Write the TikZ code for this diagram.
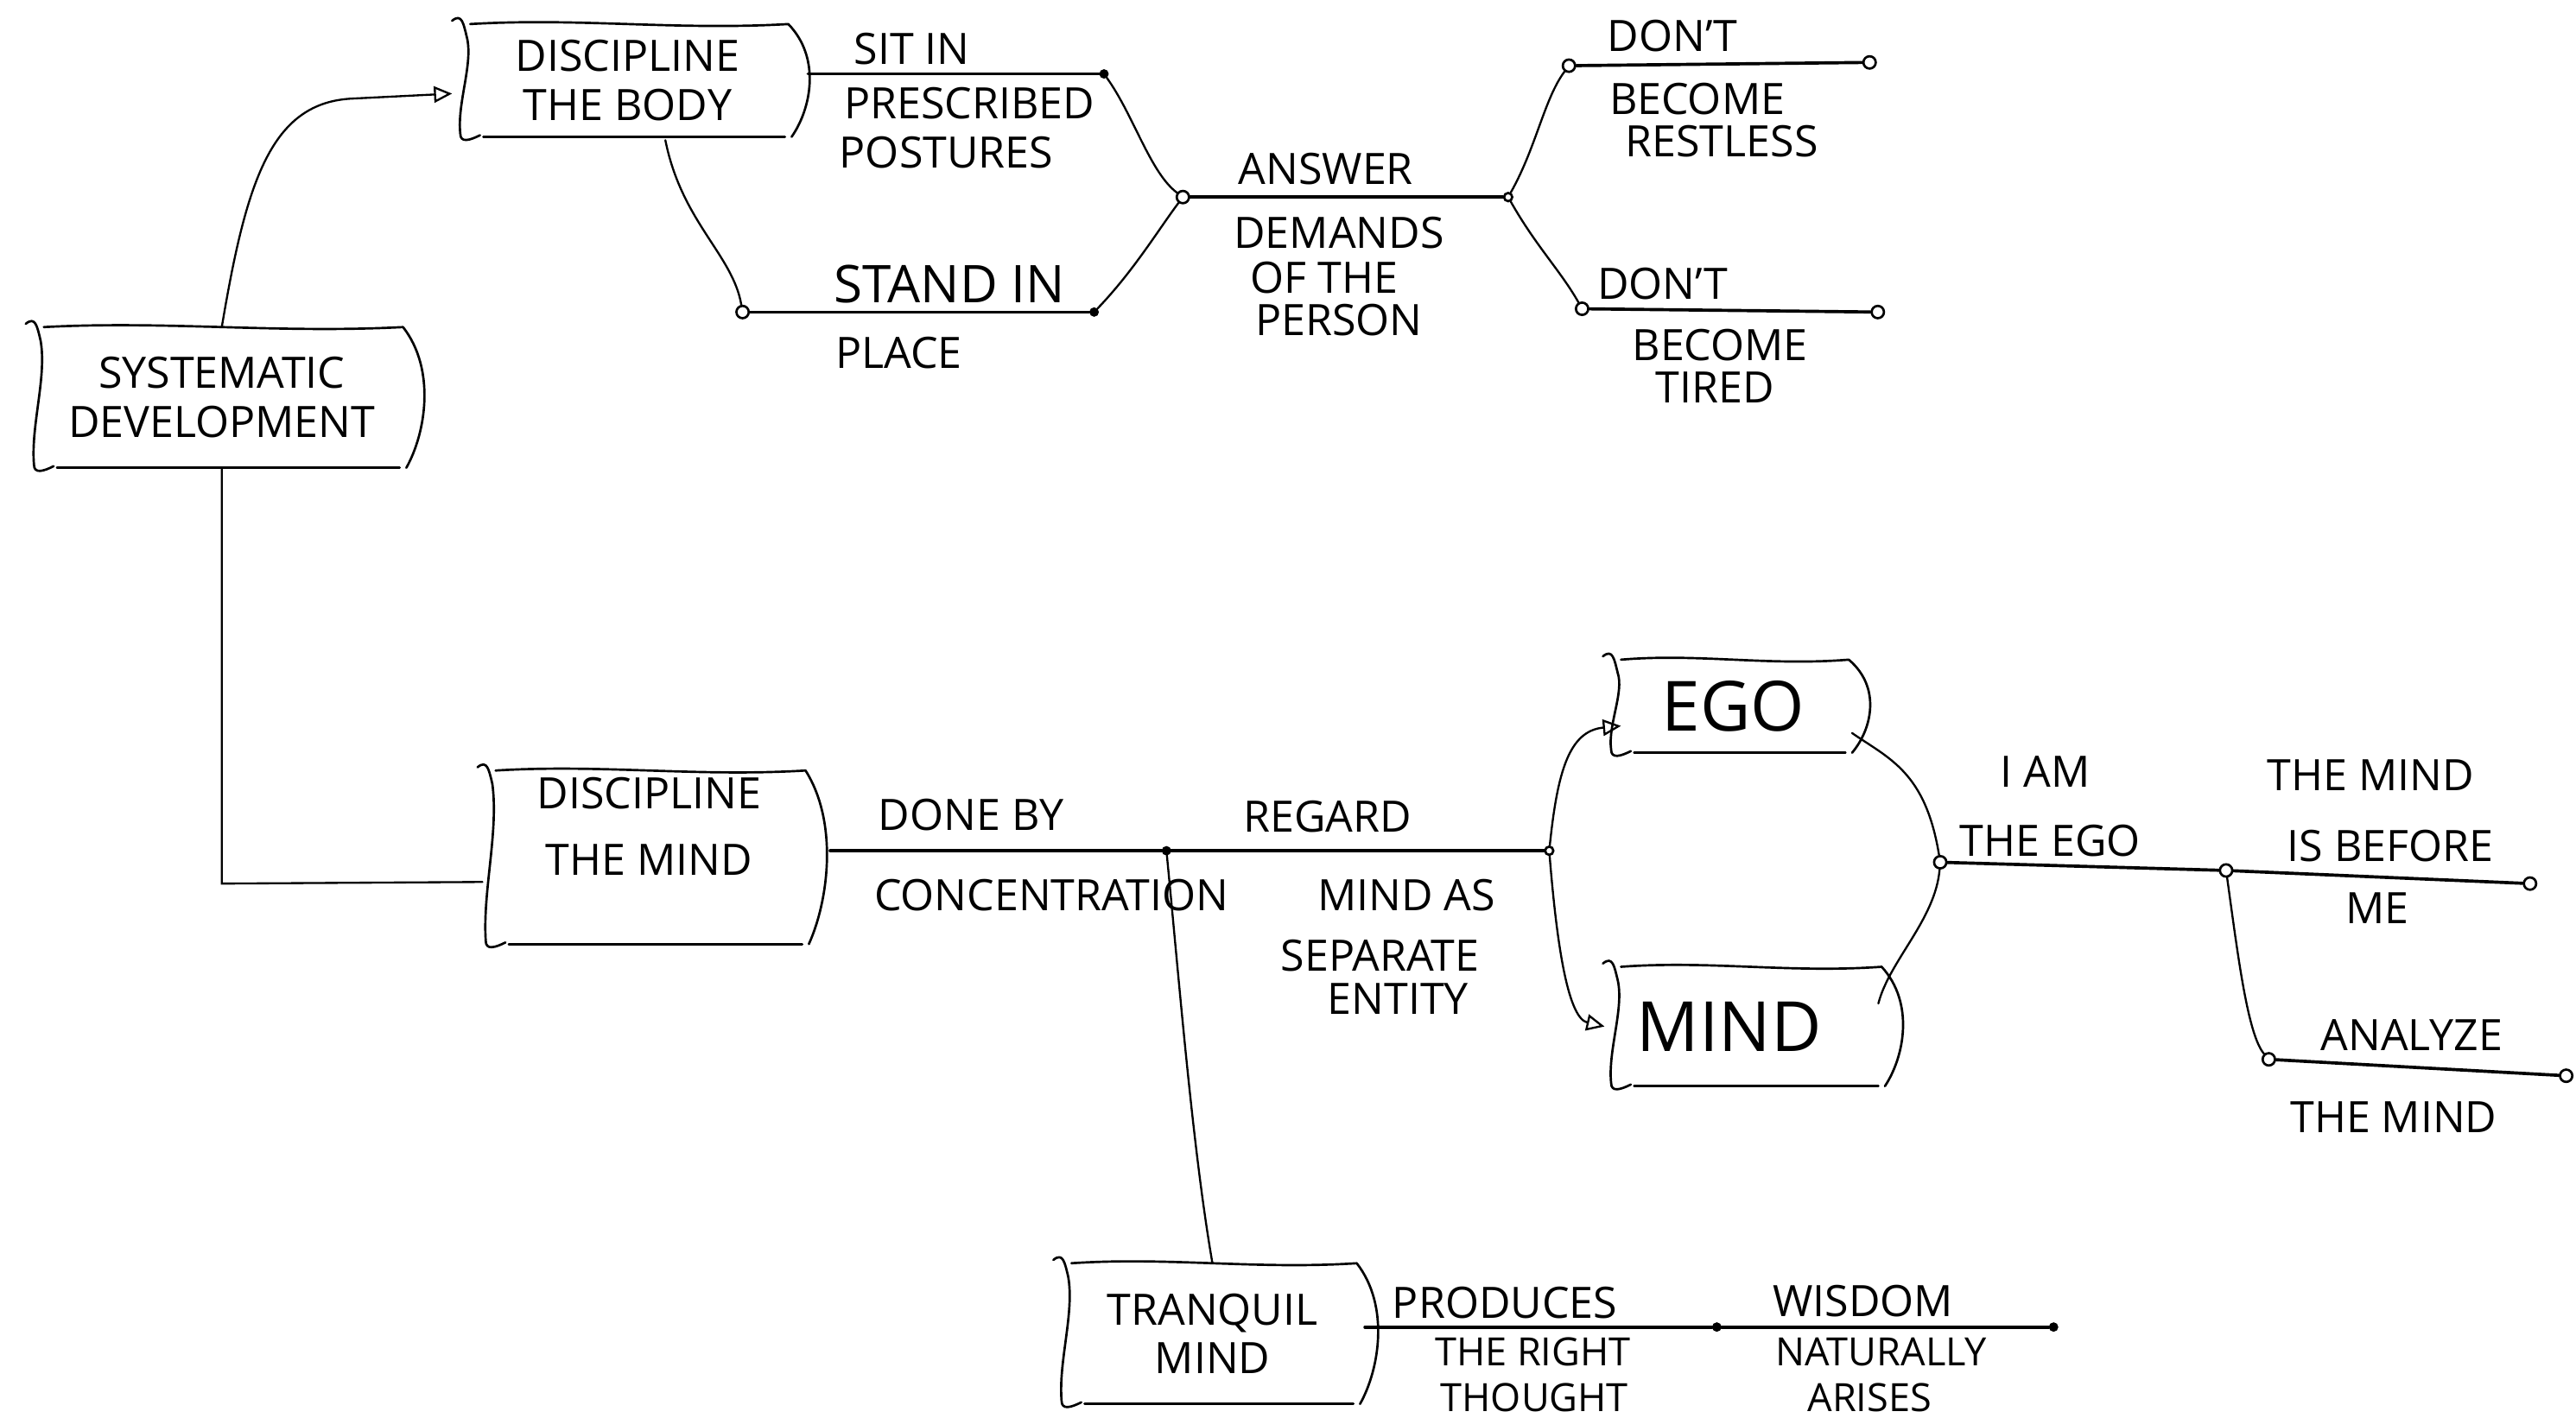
\documentclass[tikz,border=0pt]{standalone}
\usepackage{fontspec}
\setmainfont{Open Sans}
\usetikzlibrary{arrows.meta,calc}
\tikzset{
  txt/.style={font=\fontsize{15}{17}\selectfont, inner sep=0pt},
  smalltxt/.style={font=\fontsize{13.5}{15}\selectfont, inner sep=0pt},
  bigtxt/.style={font=\fontsize{18}{20}\selectfont, inner sep=0pt},
  boxtxt/.style={font=\fontsize{15}{17}\selectfont, inner sep=0pt, align=center},
  frame/.style={line width=0.8pt, line cap=round, line join=round},
  conn/.style={line width=0.7pt, line cap=round},
  rail/.style={line width=1.1pt, line cap=round},
  opendot/.style={circle, draw, line width=0.8pt, inner sep=0pt, minimum size=0.15cm},
  fulldot/.style={circle, draw, fill, inner sep=0pt, minimum size=0.1cm},
  arr/.style={-{Triangle[open, length=0.22cm, width=0.2cm]}}
}
\newcommand\scrollframe[1]{%
  \draw[frame] ($(#1.north west)+(-9,-2)$) .. controls +(6,-5) and +(-2,-8) .. ($(#1.north west)+(0,8)$)
     .. controls ($(#1.north west)!0.35!(#1.south west)+(4,0)$) and ($(#1.north west)!0.7!(#1.south west)+(-6,0)$) .. ($(#1.south west)+(-4,-2)$)
     .. controls +(0,6) and +(-6,3) .. ($(#1.south west)+(8,-1)$);
  \draw[frame] ($(#1.north west)+(2,0)$) .. controls ($(#1.north west)!0.35!(#1.north east)+(0,-4)$) and ($(#1.north west)!0.65!(#1.north east)+(0,4)$) .. (#1.north east)
     .. controls ($(#1.north east)!0.3!(#1.south east)+(20,0)$) and ($(#1.north east)!0.75!(#1.south east)+(14,0)$) .. ($(#1.south east)+(2,0)$);
  \draw[frame] ($(#1.south west)+(10,0)$) -- ($(#1.south east)+(-2,0)$);
}
\begin{document}
\begin{tikzpicture}[x=0.02cm, y=-0.02cm]
\fill[white] (0,0) rectangle (1568,862.9);
\useasboundingbox (0,0) rectangle (1568,862.9);

% ---------- boxes ----------
\node[boxtxt, minimum width=4.4cm, minimum height=1.7cm] (SD) at (135,242) {SYSTEMATIC\\DEVELOPMENT};
\node[boxtxt, minimum width=3.9cm, minimum height=1.36cm] (DB) at (382,49) {DISCIPLINE\\THE BODY};
\node[boxtxt, minimum width=3.8cm, minimum height=2.1cm, text depth=0.75cm] (DM) at (395,522) {DISCIPLINE\\[6pt]THE MIND};
\node[boxtxt, font=\fontsize{24}{26}\selectfont, minimum width=2.8cm, minimum height=1.12cm] (EGO) at (1055,430) {EGO};
\node[boxtxt, font=\fontsize{24}{26}\selectfont, minimum width=3.2cm, minimum height=1.44cm] (MIND) at (1065,625) {\hspace*{-0.5cm}MIND};
\node[boxtxt, minimum width=3.5cm, minimum height=1.7cm] (TM) at (738,812) {TRANQUIL\\MIND};
\scrollframe{SD}
\scrollframe{DB}
\scrollframe{DM}
\scrollframe{EGO}
\scrollframe{MIND}
\scrollframe{TM}

% ---------- junctions ----------
\node[fulldot] (jSit) at (672,45) {};
\node[opendot] (jStand) at (452,190) {};
\node[fulldot] (jStandEnd) at (666,190) {};
\node[opendot] (jAns) at (720,120) {};
\node[opendot, minimum size=0.1cm] (jDem) at (918,120) {};
\node[opendot] (jR1) at (955,40) {};
\node[opendot] (jR2) at (1138,38) {};
\node[opendot] (jT1) at (963,188) {};
\node[opendot] (jT2) at (1143,190) {};
\node[fulldot] (jDone) at (710,518) {};
\node[opendot, minimum size=0.1cm] (jReg) at (943,518) {};
\node[opendot] (jEgo) at (1181,525) {};
\node[opendot] (jMid) at (1355,530) {};
\node[opendot] (jMe) at (1540,538) {};
\node[opendot] (jAn1) at (1381,645) {};
\node[opendot] (jAn2) at (1562,655) {};
\node[fulldot] (jProd) at (1045,808) {};
\node[fulldot] (jWis) at (1250,808) {};

% ---------- connectors ----------
\draw[conn, arr] (SD.north) .. controls (150,110) and (165,62) .. (215,60) -- ($(DB.west)+(-9,8)$);
\draw[conn] (SD.south) -- (135,538) -- ($(DM.west)+(-6,15)$);
\draw[conn] ($(DB.south)+(23,2)$) .. controls +(10,50) and +(-6,-35) .. (jStand);
\draw[rail] ($(DB.east)+(12,-4)$) -- (jSit);
\draw[rail] (jStand) -- (jStandEnd);
\draw[conn] (jSit) .. controls (690,70) and (700,105) .. (jAns);
\draw[conn] (jStandEnd) .. controls (690,165) and (705,140) .. (jAns);
\draw[rail] (jAns) -- (jDem);
\draw[conn] (jDem) .. controls (935,90) and (940,60) .. (jR1);
\draw[conn] (jDem) .. controls (935,150) and (950,165) .. (jT1);
\draw[rail] (jR1) -- (jR2);
\draw[rail] (jT1) -- (jT2);
\draw[rail] ($(DM.east)+(15,-4)$) -- (jDone);
\draw[rail] (jDone) -- (jReg);
\draw[conn] (jDone) .. controls (718,600) and (726,700) .. (TM.north);
\draw[conn, arr] (jReg) .. controls (948,470) and (955,445) .. ($(EGO.west)+(2,12)$);
\draw[conn, arr] (jReg) .. controls (948,580) and (955,620) .. ($(MIND.west)+(-8,0)$);
\draw[conn] ($(EGO.south east)+(2,-12)$) .. controls (1150,462) and (1172,470) .. (jEgo);
\draw[conn] ($(MIND.east)+(-2,-14)$) .. controls (1150,585) and (1178,560) .. (jEgo);
\draw[rail] (jEgo) -- (jMid);
\draw[rail] (jMid) -- (jMe);
\draw[conn] (jMid) .. controls (1362,580) and (1368,630) .. (jAn1);
\draw[rail] (jAn1) -- (jAn2);
\draw[rail] ($(TM.east)+(5,-4)$) -- (jProd);
\draw[rail] (jProd) -- (jWis);

% ---------- labels ----------
\node[txt] (tSit) at (555,30) {SIT IN};
\node[txt] (tPre) at (590,63) {PRESCRIBED};
\node[txt] (tPos) at (576,93) {POSTURES};
\node[bigtxt] (tStand) at (578,173) {STAND IN};
\node[txt] (tPlace) at (547,215) {PLACE};
\node[txt] (tAns) at (807,103) {ANSWER};
\node[txt] (tDem) at (815,142) {DEMANDS};
\node[txt] (tOf) at (806,169) {OF THE};
\node[txt] (tPer) at (815,195) {PERSON};
\node[txt] (tDon1) at (1018,22) {DON'T};
\node[txt] (tBec1) at (1033,60) {BECOME};
\node[txt] (tRes) at (1048,86) {RESTLESS};
\node[txt] (tDon2) at (1012,173) {DON'T};
\node[txt] (tBec2) at (1047,210) {BECOME};
\node[txt] (tTir) at (1044,236) {TIRED};
\node[txt] (tDone) at (591,496) {DONE BY};
\node[txt] (tConc) at (640,545) {CONCENTRATION};
\node[txt] (tReg) at (808,497) {REGARD};
\node[txt] (tMas) at (856,545) {MIND AS};
\node[txt] (tSep) at (840,582) {SEPARATE};
\node[txt] (tEnt) at (851,608) {ENTITY};
\node[txt] (tIam) at (1245,470) {I AM};
\node[txt] (tTheEgo) at (1248,512) {THE EGO};
\node[txt] (tTheMind) at (1443,472) {THE MIND};
\node[txt] (tIs) at (1455,515) {IS BEFORE};
\node[txt] (tMe) at (1447,553) {ME};
\node[txt] (tAnal) at (1468,630) {ANALYZE};
\node[txt] (tTheMind2) at (1457,680) {THE MIND};
\node[txt] (tProd) at (916,793) {PRODUCES};
\node[smalltxt] (tRight) at (933,823) {THE RIGHT};
\node[smalltxt] (tThou) at (934,851) {THOUGHT};
\node[txt] (tWis) at (1134,792) {WISDOM};
\node[smalltxt] (tNat) at (1145,823) {NATURALLY};
\node[smalltxt] (tAri) at (1138,851) {ARISES};
\end{tikzpicture}
\end{document}
